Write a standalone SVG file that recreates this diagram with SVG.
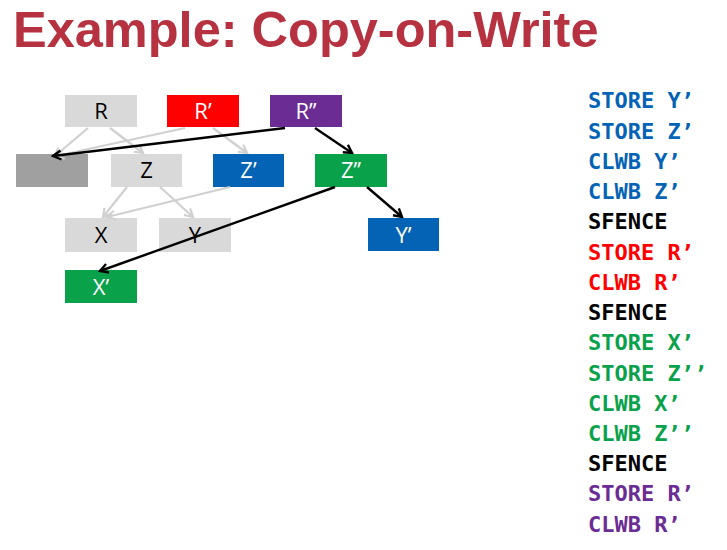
<svg xmlns="http://www.w3.org/2000/svg" width="727" height="550" viewBox="0 0 727 550">
<defs>
<style>
.title{font-family:"Liberation Sans",Arial,sans-serif;font-weight:bold;font-size:50.5px;fill:#B63240}
.box text{font-family:"Open Sans","Liberation Sans",Arial,sans-serif;font-size:22px;text-anchor:middle}
.lbl{fill:#000}
.wl{fill:#fff}
.code{font-family:"DejaVu Sans Mono","Liberation Mono",monospace;font-weight:bold;font-size:22px}
.blue{fill:#0563B5}.red{fill:#FF0000}.green{fill:#0AA14B}.purple{fill:#6B2C93}.blk{fill:#000}
.g{stroke:#D0D0D0;stroke-width:2.2;fill:none}
.k{stroke:#000;stroke-width:2.4;fill:none}
</style>
<marker id="ag" viewBox="-10 -6 12 12" refX="0" refY="0" markerWidth="12" markerHeight="12" markerUnits="userSpaceOnUse" orient="auto">
<path d="M-8,-4.5 L0,0 L-8,4.5" fill="none" stroke="#D0D0D0" stroke-width="2.2"/>
</marker>
<marker id="ak" viewBox="-10 -6 12 12" refX="0" refY="0" markerWidth="12" markerHeight="12" markerUnits="userSpaceOnUse" orient="auto">
<path d="M-8,-4.5 L0,0 L-8,4.5" fill="none" stroke="#000" stroke-width="2.4"/>
</marker>
</defs>
<rect width="727" height="550" fill="#fff"/>
<text class="title" x="13" y="47">Example: Copy-on-Write</text>

<g id="node-R" class="box"><rect x="65" y="95" width="72" height="32" fill="#D9D9D9"/><text class="lbl" x="101" y="119">R</text></g>
<g id="node-R1" class="box"><rect x="167" y="95" width="72" height="32" fill="#FF0000"/><text class="wl" x="203" y="119">R’</text></g>
<g id="node-R2" class="box"><rect x="270" y="95" width="72" height="32" fill="#6B2C93"/><text class="wl" x="306" y="119">R’’</text></g>
<g id="node-old" class="box"><rect x="16" y="154" width="72" height="33" fill="#A0A0A0"/></g>
<g id="node-Z" class="box"><rect x="111" y="154" width="71" height="33" fill="#D9D9D9"/><text class="lbl" x="146.5" y="178">Z</text></g>
<g id="node-Z1" class="box"><rect x="213" y="154" width="71" height="33" fill="#0563B5"/><text class="wl" x="248.5" y="178">Z’</text></g>
<g id="node-Z2" class="box"><rect x="315" y="154" width="72" height="33" fill="#0AA14B"/><text class="wl" x="351" y="178">Z’’</text></g>
<g id="node-X" class="box"><rect x="65" y="218" width="72" height="34" fill="#D9D9D9"/><text class="lbl" x="101" y="243">X</text></g>
<g id="node-Y" class="box"><rect x="159" y="218" width="72" height="34" fill="#D9D9D9"/><text class="lbl" x="195" y="243">Y</text></g>
<g id="node-Y1" class="box"><rect x="368" y="218" width="71" height="33" fill="#0563B5"/><text class="wl" x="403.5" y="243">Y’</text></g>
<g id="node-X1" class="box"><rect x="65" y="270" width="72" height="33" fill="#0AA14B"/><text class="wl" x="101" y="295">X’</text></g>

<g id="connectors">
<line class="g" x1="88" y1="128" x2="55" y2="156" marker-end="url(#ag)"/>
<line class="g" x1="110" y1="128" x2="143" y2="153" marker-end="url(#ag)"/>
<line class="g" x1="185" y1="128" x2="56" y2="156" marker-end="url(#ag)"/>
<line class="g" x1="213" y1="128" x2="247" y2="153" marker-end="url(#ag)"/>
<line class="g" x1="127" y1="187" x2="103" y2="217" marker-end="url(#ag)"/>
<line class="g" x1="160" y1="187" x2="193" y2="217" marker-end="url(#ag)"/>
<line class="g" x1="230" y1="187" x2="107" y2="217" marker-end="url(#ag)"/>
<line class="k" x1="285" y1="128" x2="53" y2="156" marker-end="url(#ak)"/>
<line class="k" x1="315" y1="128" x2="352" y2="153" marker-end="url(#ak)"/>
<line class="k" x1="335" y1="187" x2="100" y2="271" marker-end="url(#ak)"/>
<line class="k" x1="367" y1="187" x2="402" y2="217" marker-end="url(#ak)"/>
</g>

<g id="code" class="code">
<text class="blue" x="588" y="108.3">STORE Y’</text>
<text class="blue" x="588" y="138.5">STORE Z’</text>
<text class="blue" x="588" y="168.8">CLWB Y’</text>
<text class="blue" x="588" y="199">CLWB Z’</text>
<text class="blk" x="588" y="229.3">SFENCE</text>
<text class="red" x="588" y="259.5">STORE R’</text>
<text class="red" x="588" y="289.7">CLWB R’</text>
<text class="blk" x="588" y="320">SFENCE</text>
<text class="green" x="588" y="350.2">STORE X’</text>
<text class="green" x="588" y="380.5">STORE Z’’</text>
<text class="green" x="588" y="410.7">CLWB X’</text>
<text class="green" x="588" y="440.9">CLWB Z’’</text>
<text class="blk" x="588" y="471.2">SFENCE</text>
<text class="purple" x="588" y="501.4">STORE R’</text>
<text class="purple" x="588" y="531.7">CLWB R’</text>
</g>
</svg>
